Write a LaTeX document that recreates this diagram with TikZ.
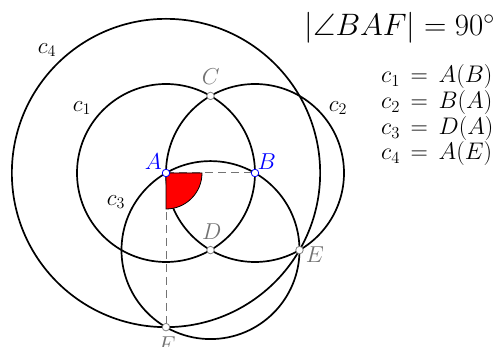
\RequirePackage{fix-cm}
\documentclass[tikz,border=0pt]{standalone}
\usepackage{amssymb}
\DeclareFontFamily{U}{msa}{}
\DeclareFontShape{U}{msa}{m}{n}{<-6>msam5<6-8>msam7<8->msam10}{}
\begin{document}
\begin{tikzpicture}[x=1pt,y=-1pt,
  circ/.style={line width=1.7pt,black},
  aux/.style={gray!90!black,line width=1pt,dash pattern=on 8pt off 5pt},
  gpt/.style={circle,draw=gray,fill=white,inner sep=0pt,minimum size=7.5pt,line width=0.8pt},
  bpt/.style={circle,draw=blue,fill=white,inner sep=0pt,minimum size=7.5pt,line width=0.8pt},
  lab/.style={font=\fontsize{23}{26}\selectfont,inner sep=0pt},
  glab/.style={lab,text=gray!90!black},
  blab/.style={lab,text=blue},
  leg/.style={font=\fontsize{24}{28}\selectfont,inner sep=0pt,anchor=base west}]
\useasboundingbox (0,0) rectangle (499,347);
\coordinate (A) at (166,173);
\coordinate (B) at (255,173);
\coordinate (C) at (210.5,95.92);
\coordinate (D) at (210.5,250.08);
\coordinate (E) at (299.5,250.08);
\coordinate (F) at (166,327.15);
% circles
\draw[circ] (A) circle[radius=89pt];
\draw[circ] (B) circle[radius=89pt];
\draw[circ] (D) circle[radius=89pt];
\draw[circ] (A) circle[radius=154.15pt];
% dashed
\draw[aux] (A) -- (B);
\draw[aux] (A) -- (F);
% angle
\filldraw[fill=red,draw=black,line width=0.8pt] (A) -- ++(36,0) arc[start angle=0,end angle=-90,radius=36pt] -- cycle;
% points
\node[bpt] (pA) at (A) {};
\node[bpt] (pB) at (B) {};
\node[gpt] (pC) at (C) {};
\node[gpt] (pD) at (D) {};
\node[gpt] (pE) at (E) {};
\node[gpt] (pF) at (F) {};
% labels
\node[blab] (lA) at (153.3,161.7) {$A$};
\node[blab] (lB) at (266.7,161.7) {$B$};
\node[glab] (lC) at (210.7,76.7) {$C$};
\node[glab] (lD) at (211.7,231.7) {$D$};
\node[glab] (lE) at (315,255) {$E$};
\node[glab] (lF) at (166.7,345) {$F$};
\node[lab] (l1) at (82,108) {$c_1$};
\node[lab] (l2) at (338,108) {$c_2$};
\node[lab] (l3) at (116,202) {$c_3$};
\node[lab] (l4) at (47,50) {$c_4$};
% formula
\node[font=\fontsize{31}{35}\selectfont,inner sep=0pt,anchor=base east] (frm) at (495,36) {$|\angle BAF| = 90^\circ$};
% legend
\node[leg] (g1) at (381,83) {$c_1 \,=\, A(B)$};
\node[leg] (g2) at (381,109) {$c_2 \,=\, B(A)$};
\node[leg] (g3) at (381,135) {$c_3 \,=\, D(A)$};
\node[leg] (g4) at (381,160) {$c_4 \,=\, A(E)$};
\end{tikzpicture}
\end{document}
